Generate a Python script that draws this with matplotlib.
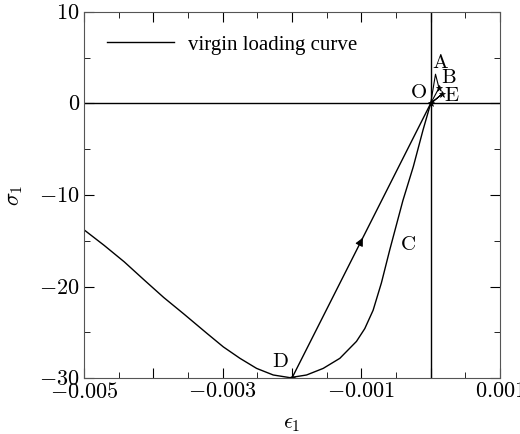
import numpy as np
import matplotlib
matplotlib.use("Agg")
import matplotlib.pyplot as plt
from matplotlib.ticker import MultipleLocator

plt.rcParams["mathtext.fontset"] = "cm"
plt.rcParams["font.family"] = ["Liberation Serif", "DejaVu Serif"]

# virgin loading curve (eps, sigma)
virgin_eps = [-0.005, -0.00471, -0.00442, -0.00413, -0.00385, -0.00356, -0.00334, -0.00323,
              -0.00299, -0.00275, -0.00251, -0.00227, -0.00203, -0.00179, -0.00155, -0.00131,
              -0.00107, -0.00095, -0.00083, -0.00071, -0.00059, -0.0004, -0.00025, -0.00011, 0.0]
virgin_sig = [-13.8, -15.5, -17.3, -19.3, -21.2, -23.0, -24.4, -25.1,
              -26.6, -27.85, -28.95, -29.67, -29.96, -29.67, -28.95, -27.85,
              -26.0, -24.6, -22.6, -19.6, -16.0, -10.6, -6.9, -2.9, 0.0]
# unloading D -> O
unload_eps = [-0.002, 0.0]
unload_sig = [-30.0, 0.0]
# small cycles near O: O -> A -> B -> O, O -> E -> O
loopA_eps = [0.0, 0.00007, 0.00012, 0.0]
loopA_sig = [0.0, 3.2, 1.7, 0.0]
loopE_eps = [0.0, 0.00016, 0.0]
loopE_sig = [0.0, 1.0, 0.0]
stars_eps = [-0.002, 0.00012, 0.00016, 0.0]
stars_sig = [-30.0, 1.7, 1.0, 0.0]

labels = ["O", "A", "B", "E", "D", "C"]
label_eps = [-0.000175, 0.000135, 0.000265, 0.0003, -0.00217, -0.00033]
label_sig = [1.1, 4.4, 2.7, 0.77, -28.3, -15.5]

fig = plt.figure(figsize=(5.2, 4.34), dpi=100)
ax = fig.add_axes([0.1615, 0.129, 0.8, 0.8434])

ax.plot(virgin_eps, virgin_sig, color="k", lw=1.0, label="virgin loading curve")
ax.plot(unload_eps, unload_sig, color="k", lw=1.0)
ax.plot(loopA_eps, loopA_sig, color="k", lw=0.8)
ax.plot(loopE_eps, loopE_sig, color="k", lw=0.8)
ax.plot(stars_eps, stars_sig, ls="none", marker="*", ms=5, color="k", mew=0.5)
ax.axhline(0, color="k", lw=1.0)
ax.axvline(0, color="k", lw=1.0)

# arrow on unloading line
mx = 0.5 * (unload_eps[0] + unload_eps[1])
my = 0.5 * (unload_sig[0] + unload_sig[1])
ax.annotate("", xy=(mx + 0.00004, my + 0.6), xytext=(mx - 0.00002, my - 0.3),
            arrowprops=dict(arrowstyle="-|>", color="k", lw=0.8, mutation_scale=12))

for t, x, y in zip(labels, label_eps, label_sig):
    ax.text(x, y, r"$\mathrm{%s}$" % t, fontsize=15, ha="center", va="center")

ax.set_xlim(-0.005, 0.001)
ax.set_ylim(-30, 10)
xt = [-0.005, -0.004, -0.003, -0.002, -0.001, 0.0, 0.001]
ax.set_xticks(xt, labels=[r"$%g$" % t if i % 2 == 0 else "" for i, t in enumerate(xt)])
yt = [-30, -20, -10, 0, 10]
ax.set_yticks(yt, labels=[r"$%g$" % t for t in yt])
ax.xaxis.set_minor_locator(MultipleLocator(0.0005))
ax.yaxis.set_minor_locator(MultipleLocator(5))
ax.tick_params(which="both", direction="in", top=True, right=True, labelsize=16)
ax.tick_params(which="major", length=7)
ax.tick_params(which="minor", length=4)
ax.tick_params(axis="y", pad=3)
for sp in ax.spines.values():
    sp.set_color("#555555")

ax.set_xlabel(r"$\epsilon_1$", fontsize=16, labelpad=9)
ax.set_ylabel(r"$\sigma_1$", fontsize=16, labelpad=10)

ax.legend(loc="center left", bbox_to_anchor=(0.055, 0.91), frameon=False,
          borderpad=0, borderaxespad=0, handlelength=3.2, handletextpad=0.7,
          prop={"family": "Liberation Serif", "size": 15})

fig.savefig("out.png", dpi=100)
